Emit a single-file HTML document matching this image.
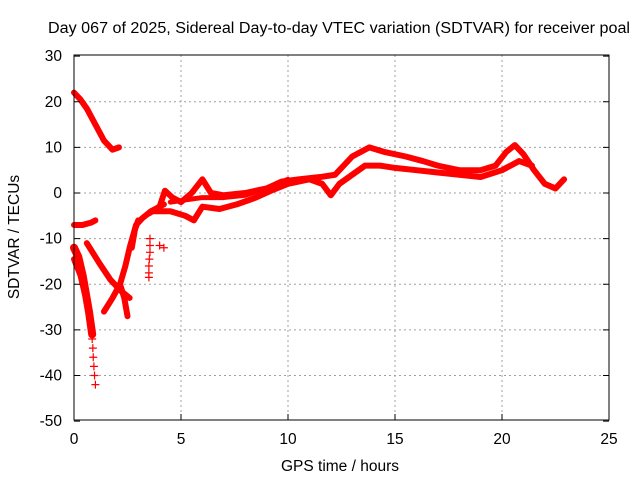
<!DOCTYPE html>
<html><head><meta charset="utf-8"><style>
body{margin:0;background:#fff;font-family:"Liberation Sans",sans-serif}
svg text{font-family:"Liberation Sans",sans-serif;font-size:15.5px;fill:#000}
</style></head><body>
<svg id="chart" width="640" height="480" xmlns="http://www.w3.org/2000/svg">
<rect width="640" height="480" fill="#fff"/>
<text x="48" y="33" textLength="582" lengthAdjust="spacingAndGlyphs">Day 067 of 2025, Sidereal Day-to-day VTEC variation (SDTVAR) for receiver poal</text>
<g id="grid"></g>
<g id="marks"></g>
<rect x="74" y="55" width="535" height="365" fill="none" stroke="#000" stroke-width="1"/>
<g id="ticks"></g>
<text x="340" y="471" text-anchor="middle">GPS time / hours</text>
<text transform="translate(19,237) rotate(-90)" text-anchor="middle">SDTVAR / TECUs</text>
</svg>
<script>
const xTicks=[0,5,10,15,20,25];
const yTicks=[30,20,10,0,-10,-20,-30,-40,-50];
const trackA=[[0,22],[0.3,20.5],[0.6,18.5],[1,15],[1.4,11.5],[1.8,9.5],[2.1,10]];
const trackB=[[0,-7],[0.4,-7],[0.8,-6.5],[1,-6]];
const trackC=[[0,-12],[0.2,-14],[0.4,-18],[0.55,-22],[0.7,-26],[0.85,-31]];
const trackC2=[[0,-14.5],[0.3,-18],[0.5,-22]];
const trackD=[[0.6,-11],[1.2,-15.5],[1.7,-19],[2.2,-21.5],[2.6,-23]];
const trackE=[[1.4,-26],[1.8,-23],[2.15,-20],[2.4,-16],[2.6,-12],[2.9,-7],[3.2,-5.5],[3.6,-4],[4.2,-2.5]];
const trackF=[[2.15,-20],[2.35,-23],[2.5,-27]];
const trackG=[[2.7,-12],[2.85,-8],[3,-6]];
const upper=[[3.5,-4.5],[4,-3],[4.25,0.5],[4.6,-1],[5,-2],[5.5,0],[6,3],[6.4,0],[7,-0.5],[8,0],[9,1],[9.7,2.5],[10.5,3],[11.5,3.5],[12.2,4],[13,8],[13.8,10],[14.5,9],[15.5,8],[16.3,7],[17,6],[18,5],[19,5],[19.7,6],[20.2,9],[20.6,10.5],[21,8.5],[21.5,5],[22,2],[22.5,1],[22.9,3]];
const lower=[[3.6,-4],[4.5,-4],[5.2,-5],[5.6,-6],[6,-3],[6.8,-3.5],[7.6,-2.5],[8.5,-1],[9.2,0.5],[10,2],[11,3],[11.6,2],[12,-0.5],[12.4,2],[13,4],[13.6,6],[14.3,6],[15,5.5],[16,5],[17,4.5],[18,4],[19,3.5],[20,5],[20.8,7],[21.4,6]];
const mid2=[[4.5,-2],[5.2,-1.5],[6,-1],[7,-1],[8,-0.5],[9,1],[10,3]];
const sparseC=[[0.85,-32],[0.88,-34],[0.9,-36],[0.93,-38],[0.96,-40],[1,-42]];
const sparseG=[[3.55,-10],[3.55,-11.5],[3.55,-13],[3.52,-14.5],[3.5,-16],[3.5,-17.5],[3.5,-18.5]];
const sparseH=[[4,-11.5],[4.2,-12]];
const X=h=>74+h*21.4, Y=v=>193-v*4.5625;
const NS="http://www.w3.org/2000/svg";
const grid=document.getElementById('grid'),ticks=document.getElementById('ticks'),marks=document.getElementById('marks');
function mk(t,a,p){const e=document.createElementNS(NS,t);for(const k in a)e.setAttribute(k,a[k]);p.appendChild(e);return e;}
xTicks.forEach(t=>{
 if(t>0&&t<25){const l=mk('line',{x1:X(t),x2:X(t),y1:55,y2:420,stroke:'#a0a0a0','stroke-dasharray':'2,3'},grid);
 
 }
 const tk=mk('line',{x1:X(t),x2:X(t),y1:420,y2:414,stroke:'#000'},ticks);
 
 
 const tx=mk('text',{x:X(t),y:444,'text-anchor':'middle'},ticks);tx.textContent=t;
 
 
});
yTicks.forEach(t=>{
 if(t<30&&t>-50){const l=mk('line',{x1:74,x2:609,y1:Y(t),y2:Y(t),stroke:'#a0a0a0','stroke-dasharray':'2,3'},grid);
 
 }
 const tk=mk('line',{x1:74,x2:80,y1:Y(t),y2:Y(t),stroke:'#000'},ticks);
 
 
 const tk2=mk('line',{x1:603,x2:609,y1:Y(t),y2:Y(t),stroke:'#000'},ticks);
 
 
 const tx=mk('text',{x:62,y:Y(t)+5,'text-anchor':'end'},ticks);tx.textContent=t;
 
 
});
function track(d,w,name){
 const p=mk('polyline',{points:d.map(q=>X(q[0])+','+Y(q[1])).join(' '),fill:'none',stroke:'#ff0000','stroke-width':w,'stroke-linejoin':'round','stroke-linecap':'round'},marks);
 
 
}
function plus(d,name){d.forEach(q=>{
 const p=mk('path',{d:`M${X(q[0])-4},${Y(q[1])}h8M${X(q[0])},${Y(q[1])-4}v8`,stroke:'#ff0000','stroke-width':1.2},marks);
 
 
});}
track(trackA,6,'series-track-a');track(trackB,6,'series-track-b');
track(trackC,8,'series-track-c');track(trackC2,6,'series-track-c2');
track(trackD,6,'series-track-d');track(trackE,6,'series-track-e');
track(trackF,6,'series-track-f');track(trackG,6,'series-track-g');
track(upper,6,'series-upper-band');track(lower,6,'series-lower-band');track(mid2,5,'series-mid-band');
plus(sparseC,'series-sparse-c');plus(sparseG,'series-sparse-g');plus(sparseH,'series-sparse-h');
</script>
</body></html>
